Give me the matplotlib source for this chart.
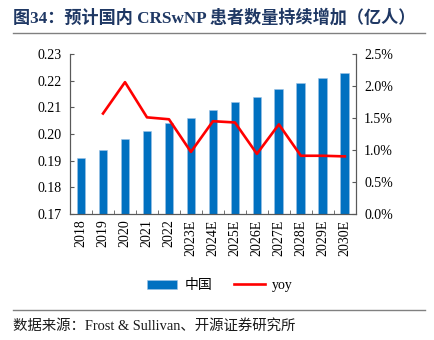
import matplotlib
matplotlib.use('Agg')
import matplotlib.pyplot as plt
from matplotlib.lines import Line2D
from matplotlib.patches import Patch
import numpy as np

years = ['2018', '2019', '2020', '2021', '2022', '2023E', '2024E', '2025E',
         '2026E', '2027E', '2028E', '2029E', '2030E']
patients = [0.191, 0.194, 0.198, 0.201, 0.204, 0.206, 0.209, 0.212,
            0.214, 0.217, 0.219, 0.221, 0.223]  # 亿人
yoy = [np.nan, 1.57, 2.06, 1.51, 1.48, 0.97, 1.45, 1.43,
       0.94, 1.40, 0.91, 0.91, 0.90]  # %

fonts = ['Liberation Serif', 'Noto Sans CJK SC', 'DejaVu Sans']
plt.rcParams['font.family'] = fonts
plt.rcParams['axes.unicode_minus'] = False

fig = plt.figure(figsize=(4.35, 3.4), dpi=100)
ax = fig.add_axes([0.161, 0.3706, 0.657, 0.4706])
ax2 = ax.twinx()

x = np.arange(len(years))
ax.bar(x, patients, width=0.4, color='#0070C0', edgecolor='#9DC3E6', linewidth=0.4, zorder=2)
ax2.plot(x, np.array(yoy) / 100, color='#FF0000', linewidth=1.9, zorder=3)

ax.set_ylim(0.17, 0.23)
ax.set_yticks(np.arange(0.17, 0.2301, 0.01))
ax.set_yticklabels(['%.2f' % v for v in np.arange(0.17, 0.2301, 0.01)], fontsize=10)
ax.set_xlim(-0.5, len(years) - 0.5)
ax.set_xticks(x)
ax.set_xticklabels(years, rotation=90, fontsize=10)
ax.set_xticks(np.arange(-0.5, len(years)), minor=True)
ax.tick_params(axis='x', which='major', length=0, pad=4)
ax.tick_params(axis='x', which='minor', direction='in', length=3, color='#595959')
ax.tick_params(axis='y', direction='in', length=3, color='#595959', pad=6)

ax2.set_ylim(0, 0.025)
ax2.set_yticks(np.arange(0, 0.0251, 0.005))
ax2.set_yticklabels(['%.1f%%' % (v * 100) for v in np.arange(0, 0.0251, 0.005)], fontsize=10)
ax2.tick_params(axis='y', direction='in', length=3, color='#595959', pad=6)

for a in (ax, ax2):
    a.spines['top'].set_visible(False)
    for s in ('left', 'right', 'bottom'):
        a.spines[s].set_color('#595959')
        a.spines[s].set_linewidth(0.8)

handles = [Patch(facecolor='#0070C0', edgecolor='#9DC3E6', linewidth=0.4),
           Line2D([0], [0], color='#FF0000', linewidth=1.9)]
fig.legend(handles, ['中国', 'yoy'], loc='center', bbox_to_anchor=(0.505, 0.16),
           ncol=2, frameon=False, fontsize=10, handlelength=2.2, handleheight=0.6,
           columnspacing=1.6, handletextpad=0.5)

# 标题与来源
fig.text(0.03, 0.948, '图34：预计国内 CRSwNP 患者数量持续增加（亿人）', fontsize=12.3,
         fontweight='bold', color='#1F3864', va='center', ha='left')
fig.add_artist(Line2D([0.03, 0.977], [0.902, 0.902], color='#808080', linewidth=1.0))
fig.add_artist(Line2D([0.03, 0.977], [0.088, 0.088], color='#808080', linewidth=1.0))
fig.text(0.03, 0.042, '数据来源：Frost & Sullivan、开源证券研究所', fontsize=10.4,
         color='#1a1a1a', va='center', ha='left')

fig.savefig('out.png', dpi=100)
